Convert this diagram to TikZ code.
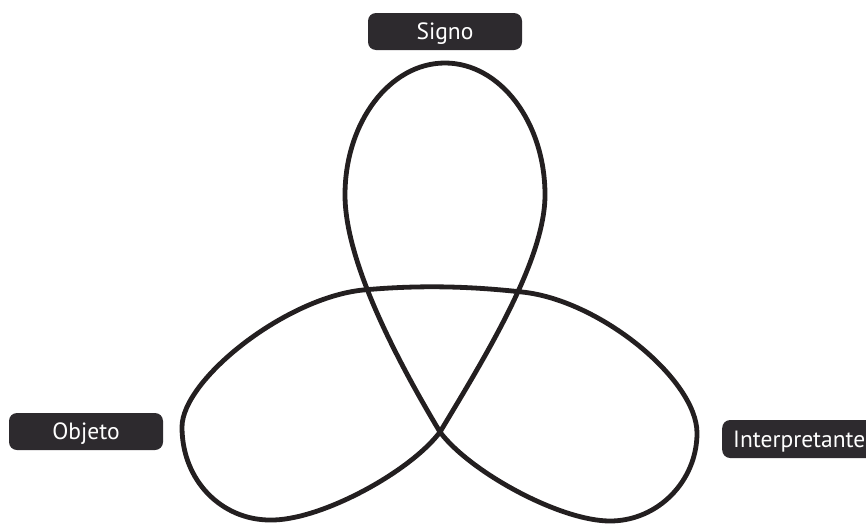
\documentclass[tikz,border=0pt]{standalone}
\usepackage{fontspec}
\setmainfont{PT Sans}
\definecolor{boxfill}{RGB}{45,42,46}
\definecolor{ink}{RGB}{35,31,32}
\begin{document}
\begin{tikzpicture}[x=1pt,y=-1pt,
  labelbox/.style={fill=boxfill, text=white, rounded corners=8pt,
    minimum height=37pt, inner ysep=0pt, text height=16pt, text depth=0pt,
    font=\fontsize{23.5}{26}\selectfont},
  knot/.style={draw=ink, line width=4.8pt, line join=round}]
\useasboundingbox (0,0) rectangle (866,525);
% labels
\node[labelbox, minimum width=154pt, inner xsep=0pt] (signo) at (445,31.5) {Signo};
\node[labelbox, minimum width=154pt, inner xsep=0pt] (objeto) at (86,431.5) {Objeto};
\node[labelbox, anchor=west, inner xsep=11pt, minimum height=38pt] (interp) at (722,439) {Interpretante};
% key points of the curve
\coordinate (T)  at (445,63);
\coordinate (L)  at (345,195);
\coordinate (B)  at (440,432);
\coordinate (Rb) at (610,521);
\coordinate (Rr) at (697,433);
\coordinate (C2) at (522,292);
\coordinate (C1) at (363,290);
\coordinate (Ll) at (182,427);
\coordinate (Lb) at (270,520);
\coordinate (R)  at (545,195);
\draw[knot] (T)
  .. controls (390,63) and (345,122) .. (L)
  .. controls (345,260) and (395,357) .. (B)
  .. controls (470,472) and (560,521) .. (Rb)
  .. controls (658,521) and (697,481) .. (Rr)
  .. controls (697,380) and (600,300) .. (C2)
  .. controls (467,286) and (418,285) .. (C1)
  .. controls (285,298) and (182,380) .. (Ll)
  .. controls (182,481) and (222,520) .. (Lb)
  .. controls (320,521) and (410,472) .. (B)
  .. controls (485,357) and (545,260) .. (R)
  .. controls (545,122) and (500,63) .. (T) -- cycle;
\end{tikzpicture}
\end{document}
